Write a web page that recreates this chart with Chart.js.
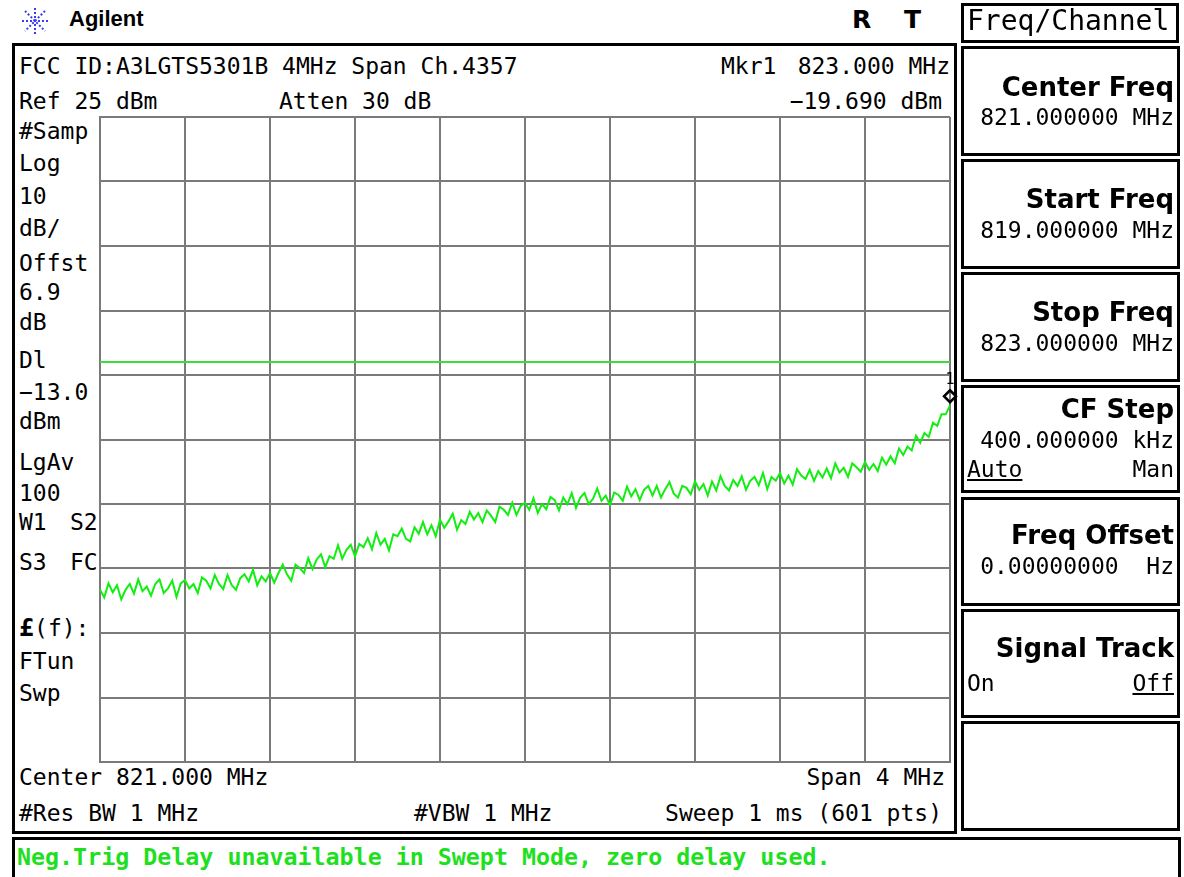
<!DOCTYPE html>
<html>
<head>
<meta charset="utf-8">
<script src="https://cdn.jsdelivr.net/npm/chart.js@4/dist/chart.umd.min.js"></script>
<style>
  html, body { margin: 0; padding: 0; background: #fff; }
  body { width: 1184px; height: 877px; position: relative; overflow: hidden; }
  .t { position: absolute; font: 23px "DejaVu Sans Mono", monospace; color: #000;
       height: 30px; line-height: 30px; white-space: pre; }
  .r { text-align: right; }
  .box { position: absolute; border: 3px solid #000; box-sizing: border-box; background: #fff; }
  .key { position: absolute; font: bold 26px "DejaVu Sans", sans-serif; white-space: pre;
         height: 30px; line-height: 30px; text-align: right; }
  .val { position: absolute; font: 23px "DejaVu Sans Mono", monospace; white-space: pre;
         height: 28px; line-height: 28px; }
  #plot { position: absolute; left: 98px; top: 115px; width: 864px; height: 649px; }
</style>
</head>
<body>

<!-- header -->
<svg style="position:absolute;left:20px;top:6px" width="30" height="30" viewBox="0 0 30 30">
  <g stroke="#3b3bf0" stroke-width="2" stroke-dasharray="2 2">
    <line x1="15" y1="2" x2="15" y2="28"/>
    <line x1="2" y1="15" x2="28" y2="15"/>
    <line x1="5" y1="5" x2="25" y2="25"/>
    <line x1="25" y1="5" x2="5" y2="25"/>
  </g>
</svg>
<div class="t" style="left:69px;top:6px;font:bold 22px 'Liberation Sans',sans-serif;">Agilent</div>
<div class="t" style="left:852px;top:5px;font:bold 25px 'DejaVu Sans',sans-serif;">R</div>
<div class="t" style="left:904px;top:5px;font:bold 25px 'DejaVu Sans',sans-serif;">T</div>

<!-- main frame -->
<div class="box" style="left:12px;top:43px;width:945px;height:791px;"></div>

<div class="t" style="left:19px;top:51px;">FCC ID:A3LGTS5301B 4MHz Span Ch.4357</div>
<div class="t" style="left:721px;top:51px;">Mkr1</div>
<div class="t r" style="left:700px;width:250px;top:51px;">823.000 MHz</div>
<div class="t" style="left:19px;top:86px;">Ref 25 dBm</div>
<div class="t" style="left:279px;top:86px;">Atten 30 dB</div>
<div class="t r" style="left:700px;width:242px;top:86px;">&minus;19.690 dBm</div>

<div class="t" style="left:19px;top:116px;">#Samp</div>
<div class="t" style="left:19px;top:148px;">Log</div>
<div class="t" style="left:19px;top:181px;">10</div>
<div class="t" style="left:19px;top:213px;">dB/</div>
<div class="t" style="left:19px;top:248px;">Offst</div>
<div class="t" style="left:19px;top:277px;">6.9</div>
<div class="t" style="left:19px;top:307px;">dB</div>
<div class="t" style="left:19px;top:345px;">Dl</div>
<div class="t" style="left:19px;top:377px;">&minus;13.0</div>
<div class="t" style="left:19px;top:406px;">dBm</div>
<div class="t" style="left:19px;top:447px;">LgAv</div>
<div class="t" style="left:19px;top:478px;">100</div>
<div class="t" style="left:19px;top:507px;">W1</div>
<div class="t" style="left:70px;top:507px;">S2</div>
<div class="t" style="left:19px;top:547px;">S3</div>
<div class="t" style="left:70px;top:547px;">FC</div>
<div class="t" style="left:19px;top:613px;"><b style="font-size:25px">&pound;</b>(f):</div>
<div class="t" style="left:19px;top:646px;">FTun</div>
<div class="t" style="left:19px;top:678px;">Swp</div>

<div class="t" style="left:19px;top:762px;">Center 821.000 MHz</div>
<div class="t r" style="left:700px;width:245px;top:762px;">Span 4 MHz</div>
<div class="t" style="left:19px;top:798px;">#Res BW 1 MHz</div>
<div class="t" style="left:414px;top:798px;">#VBW 1 MHz</div>
<div class="t r" style="left:600px;width:342px;top:798px;">Sweep 1 ms (601 pts)</div>

<div id="plot"><canvas id="trace"></canvas></div>

<!-- softkey panel -->
<div class="box" style="left:961px;top:3px;width:218px;height:40px;"></div>
<div class="t" style="left:967px;top:6px;font-size:28px;">Freq/Channel</div>

<div class="box" style="left:961px;top:46px;width:219px;height:110px;"></div>
<div class="key" style="left:962px;width:212px;top:72px;">Center Freq</div>
<div class="val" style="left:962px;width:212px;top:103px;text-align:right;">821.000000 MHz</div>

<div class="box" style="left:961px;top:159px;width:219px;height:110px;"></div>
<div class="key" style="left:962px;width:212px;top:184px;">Start Freq</div>
<div class="val" style="left:962px;width:212px;top:216px;text-align:right;">819.000000 MHz</div>

<div class="box" style="left:961px;top:272px;width:219px;height:110px;"></div>
<div class="key" style="left:962px;width:212px;top:297px;">Stop Freq</div>
<div class="val" style="left:962px;width:212px;top:329px;text-align:right;">823.000000 MHz</div>

<div class="box" style="left:961px;top:385px;width:219px;height:108px;"></div>
<div class="key" style="left:962px;width:212px;top:394px;">CF Step</div>
<div class="val" style="left:962px;width:212px;top:426px;text-align:right;">400.000000 kHz</div>
<div class="val" style="left:967px;top:455px;text-decoration:underline;">Auto</div>
<div class="val" style="left:962px;width:212px;top:455px;text-align:right;">Man</div>

<div class="box" style="left:961px;top:497px;width:219px;height:109px;"></div>
<div class="key" style="left:962px;width:212px;top:520px;">Freq Offset</div>
<div class="val" style="left:962px;width:212px;top:552px;text-align:right;">0.00000000  Hz</div>

<div class="box" style="left:961px;top:609px;width:219px;height:109px;"></div>
<div class="key" style="left:962px;width:212px;top:633px;">Signal Track</div>
<div class="val" style="left:967px;top:669px;">On</div>
<div class="val" style="left:962px;width:212px;top:669px;text-align:right;text-decoration:underline;">Off</div>

<div class="box" style="left:961px;top:721px;width:219px;height:110px;"></div>

<!-- message line -->
<div class="box" style="left:12px;top:837px;width:1169px;height:50px;"></div>
<div class="t" style="left:17px;top:843px;font:bold 23.3px 'DejaVu Sans Mono',monospace;color:#1ee01e;">Neg.Trig Delay unavailable in Swept Mode, zero delay used.</div>

<script>
// ======================================================
// DATA
// ======================================================

const START_MHZ = 819;
const STOP_MHZ = 823;
const REF_LEVEL = 25;      // dBm, top of screen
const DB_PER_DIV = 10;
const DISPLAY_LINE = -13;  // dBm
const MARKER_MHZ = 823;
const MARKER_DBM = -19.69;

// trace level (dBm), 201 samples
const traceLevels = [
  -48.3, -49.5, -47.3, -48.7, -47.6, -49.8, -48.3, -47.4, -48.9, -46.7,
  -48.5, -47.8, -49.2, -47.4, -46.7, -48.8, -48.1, -46.9, -49.4, -47.3,
  -46.8, -48.1, -47.4, -48.8, -46.4, -46.9, -48.1, -46.0, -47.4, -48.2,
  -46.0, -47.6, -48.3, -46.5, -45.9, -47.0, -45.2, -47.6, -46.2, -47.0,
  -45.7, -47.2, -45.7, -44.4, -45.9, -46.9, -44.4, -44.9, -45.7, -43.4,
  -45.1, -43.6, -42.8, -44.8, -43.1, -43.5, -41.4, -43.5, -42.1, -41.3,
  -43.1, -41.2, -41.7, -40.3, -42.0, -39.5, -41.3, -40.4, -42.2, -39.7,
  -40.0, -38.8, -40.4, -40.8, -38.6, -39.6, -37.8, -39.7, -38.3, -40.0,
  -37.4, -38.7, -37.7, -36.5, -39.0, -37.5, -38.1, -36.2, -37.4, -36.4,
  -37.8, -36.0, -36.8, -37.8, -35.4, -35.9, -36.7, -34.8, -36.7, -35.3,
  -34.8, -35.9, -34.1, -36.4, -35.0, -35.8, -33.9, -34.4, -36.0, -34.0,
  -35.0, -33.3, -35.6, -34.0, -33.3, -35.0, -34.2, -32.6, -34.5, -33.7,
  -35.2, -33.2, -33.6, -34.5, -32.3, -33.8, -32.7, -34.4, -32.8, -32.2,
  -33.7, -32.2, -34.0, -32.7, -31.6, -33.4, -34.0, -32.2, -32.5, -33.5,
  -31.5, -32.8, -31.9, -33.7, -31.5, -32.9, -30.7, -32.2, -32.9, -31.3,
  -32.2, -30.7, -32.8, -31.4, -30.8, -32.1, -30.2, -32.7, -30.8, -31.4,
  -30.2, -31.8, -30.6, -32.0, -29.6, -30.6, -31.1, -29.7, -31.4, -29.9,
  -30.9, -29.5, -31.0, -28.7, -30.1, -29.4, -30.8, -28.7, -29.3, -30.0,
  -28.5, -29.7, -28.8, -29.9, -27.8, -28.9, -27.6, -28.7, -26.4, -27.4,
  -26.1, -26.7, -24.4, -25.5, -24.0, -24.6, -22.4, -22.9, -21.1, -21.1,
  -19.7
];

// ======================================================
// CHART
// ======================================================

const step = (STOP_MHZ - START_MHZ) / (traceLevels.length - 1);
const tracePoints = traceLevels.map((v, i) => ({ x: START_MHZ + i * step, y: v }));

const markerPlugin = {
  id: "marker",
  afterDatasetsDraw(chart) {
    const ctx = chart.ctx;
    const x = chart.scales.x.getPixelForValue(MARKER_MHZ);
    const y = chart.scales.y.getPixelForValue(MARKER_DBM);
    const cy = y - 9;
    ctx.save();
    ctx.strokeStyle = "#000";
    ctx.lineWidth = 2.5;
    ctx.beginPath();
    ctx.moveTo(x, cy - 6);
    ctx.lineTo(x + 6, cy);
    ctx.lineTo(x, cy + 6);
    ctx.lineTo(x - 6, cy);
    ctx.closePath();
    ctx.stroke();
    ctx.fillStyle = "#000";
    ctx.font = "15px 'DejaVu Sans Mono'";
    ctx.textAlign = "center";
    ctx.textBaseline = "bottom";
    ctx.fillText("1", x, cy - 9);
    ctx.restore();
  },
};

new Chart(document.getElementById("trace"), {
  type: "line",
  data: {
    datasets: [
      {
        data: [
          { x: START_MHZ, y: DISPLAY_LINE },
          { x: STOP_MHZ, y: DISPLAY_LINE },
        ],
        borderColor: "#3ddc3d",
        borderWidth: 2,
        pointRadius: 0,
      },
      {
        data: tracePoints,
        borderColor: "#12ee12",
        borderWidth: 2,
        pointRadius: 0,
        tension: 0,
      },
    ],
  },
  options: {
    responsive: true,
    maintainAspectRatio: false,
    animation: false,
    layout: { padding: { left: 2, top: 2, bottom: 2, right: 12 } },
    plugins: { legend: { display: false }, tooltip: { enabled: false } },
    scales: {
      x: {
        type: "linear",
        min: START_MHZ,
        max: STOP_MHZ,
        ticks: { display: false, stepSize: 0.4 },
        grid: { color: "#7a7a7a", lineWidth: 2, drawTicks: false },
        border: { color: "#7a7a7a", width: 2 },
      },
      y: {
        min: REF_LEVEL - 10 * DB_PER_DIV,
        max: REF_LEVEL,
        ticks: { display: false, stepSize: DB_PER_DIV },
        grid: { color: "#7a7a7a", lineWidth: 2, drawTicks: false },
        border: { color: "#7a7a7a", width: 2 },
      },
    },
  },
  plugins: [markerPlugin],
});
</script>
</body>
</html>
